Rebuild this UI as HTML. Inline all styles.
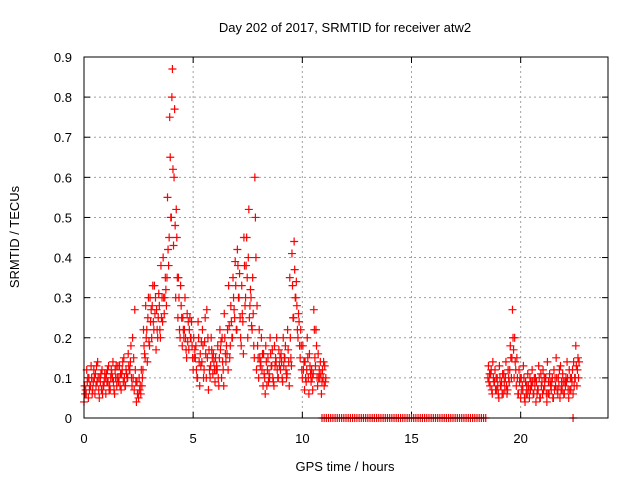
<!DOCTYPE html>
<html><head><meta charset="utf-8"><style>
body{margin:0;background:#fff}
svg{display:block;font-family:"Liberation Sans",sans-serif}
</style></head><body>
<svg id="chart" width="640" height="480" viewBox="0 0 640 480" xmlns="http://www.w3.org/2000/svg">
<text x="345" y="32" font-size="13" text-anchor="middle">Day 202 of 2017, SRMTID for receiver atw2</text>
<text x="345" y="471" font-size="13" text-anchor="middle">GPS time / hours</text>
<text transform="translate(19,237) rotate(-90)" font-size="13" text-anchor="middle">SRMTID / TECUs</text>
<g id="grid"></g>
<g id="ticks"></g>
<g id="marks"></g>
<rect x="84" y="57" width="524" height="361" fill="none" stroke="#000" stroke-width="1"/>
</svg>
<script>
const xTicks=[0,5,10,15,20];
const yTicks=[0,0.1,0.2,0.3,0.4,0.5,0.6,0.7,0.8,0.9];
const yTickLabels=["0","0.1","0.2","0.3","0.4","0.5","0.6","0.7","0.8","0.9"];
const seg1Start=0, seg1Step=0.1;
const seg1A=[.04,.06,.05,.08,.07,.06,.09,.05,.07,.08,.06,.09,.07,.1,.06,.08,.1,.07,.09,.08,.1,.12,.08,.07,.04,.05,.06,.12,.15,.14,.18,.2,.22,.17,.25,.2,.24,.3,.35,.45,.5,.43,.3,.25,.2,.18,.22,.15,.17,.2,.12,.15,.1,.08,.14,.12,.1,.07,.13,.11,.09,.12,.15,.1,.08,.14,.12,.18,.2,.25,.22,.3,.18,.16,.3,.2,.28,.22,.15,.12,.1,.14,.08,.06,.12,.1,.13,.08,.14,.1,.12,.09,.15,.11,.08,.13,.25,.3,.2,.15,.1,.07,.12,.06,.09,.11,.13,.08,.1,.09,.08];
const seg1B=[.08,.12,.1,.13,.09,.11,.14,.1,.12,.09,.11,.13,.1,.14,.12,.1,.13,.11,.15,.12,.16,.14,.2,.27,.09,.1,.12,.22,.28,.25,.3,.28,.33,.27,.31,.38,.4,.35,.55,.75,.8,.6,.52,.35,.33,.25,.3,.26,.22,.24,.2,.18,.24,.16,.22,.19,.27,.17,.2,.16,.15,.18,.22,.2,.26,.18,.33,.28,.35,.39,.42,.36,.33,.45,.38,.4,.32,.35,.6,.28,.22,.2,.16,.18,.15,.2,.17,.18,.2,.17,.16,.2,.18,.22,.35,.41,.44,.34,.26,.22,.18,.14,.2,.16,.12,.27,.22,.16,.14,.12,.13];
const seg1C=[.06,.09,.07,.1,.12,.08,.1,.09,.06,.11,.09,.07,.12,.09,.1,.13,.08,.12,.1,.11,.13,.18,.1,.12,.06,.07,.08,.18,.2,.3,.24,.33,.26,.22,.28,.25,.3,.32,.42,.65,.87,.77,.45,.3,.28,.22,.2,.19,.25,.18,.15,.12,.2,.13,.18,.25,.15,.12,.17,.14,.12,.1,.17,.14,.2,.16,.23,.24,.3,.33,.38,.25,.26,.38,.45,.52,.3,.26,.5,.18,.15,.12,.11,.14,.09,.16,.1,.13,.12,.13,.14,.13,.12,.17,.2,.33,.37,.28,.24,.18,.12,.1,.15,.13,.1,.22,.18,.1,.11,.1,.09];
const seg1D=[.07,.1,.08,.06,.1,.13,.07,.11,.08,.1,.12,.08,.11,.07,.13,.09,.11,.14,.08,.1,.12,.1,.15,.09,.06,.08,.1,.16,.22,.19,.27,.24,.3,.2,.22,.3,.26,.28,.38,.5,.62,.48,.35,.22,.25,.2,.17,.24,.2,.15,.17,.1,.14,.19,.1,.16,.2,.1,.15,.12,.13,.08,.19,.12,.16,.22,.15,.2,.27,.22,.3,.2,.24,.28,.35,.25,.23,.18,.4,.15,.13,.16,.1,.08,.11,.13,.09,.15,.1,.15,.1,.15,.1,.14,.15,.25,.3,.22,.18,.12,.14,.09,.1,.11,.07,.15,.1,.12,.06,.14,.1];
const seg2Start=18.5, seg2Step=0.1;
const seg2A=[.1,.08,.06,.09,.07,.05,.08,.06,.1,.07,.12,.15,.1,.08,.06,.05,.07,.04,.06,.05,.08,.06,.04,.07,.05,.06,.08,.04,.06,.07,.05,.08,.06,.05,.07,.06,.09,.05,.07,.06,.1,.12];
const seg2B=[.13,.11,.14,.12,.1,.13,.09,.11,.14,.12,.18,.27,.2,.15,.12,.1,.13,.09,.11,.1,.12,.1,.09,.13,.11,.12,.1,.14,.11,.09,.12,.15,.1,.13,.11,.09,.14,.12,.1,.14,.18,.15];
const seg2C=[.09,.12,.1,.07,.08,.1,.06,.09,.08,.1,.15,.2,.14,.1,.09,.07,.1,.06,.08,.07,.09,.08,.06,.1,.08,.07,.1,.06,.09,.1,.07,.1,.08,.07,.09,.08,.1,.07,.09,.08,.13,.1];
const seg2D=[.11,.07,.09,.1,.06,.08,.11,.07,.06,.09,.1,.17,.12,.06,.1,.08,.05,.08,.07,.09,.06,.1,.07,.05,.09,.1,.06,.09,.08,.05,.1,.07,.12,.09,.06,.1,.07,.1,.12,.1,.08,.14];
const zeroStart=10.9, zeroStep=0.1, zeroCount=76;

const X0=84,X1=608,Y0=418,Y1=57;
const xs=t=>X0+(t/24)*(X1-X0);
const ys=v=>Y0-(v/0.9)*(Y0-Y1);
const NS="http://www.w3.org/2000/svg";
const grid=document.getElementById('grid'),ticks=document.getElementById('ticks'),marks=document.getElementById('marks');
function mk(tag,attrs,parent){const e=document.createElementNS(NS,tag);for(const k in attrs)e.setAttribute(k,attrs[k]);parent.appendChild(e);return e;}
xTicks.forEach(t=>{
  const x=xs(t);
  if(t>0){const g=mk('line',{x1:x,x2:x,y1:Y0,y2:Y1,stroke:'#a0a0a0','stroke-dasharray':'2,3'},grid);
  
  }
  mk('line',{x1:x,x2:x,y1:Y0,y2:Y0-6,stroke:'#000'},ticks);
  mk('line',{x1:x,x2:x,y1:Y1,y2:Y1+6,stroke:'#000'},ticks);
  const l=mk('text',{x:x,y:443,'font-size':13,'text-anchor':'middle'},ticks);l.textContent=t;
  
  
});
yTicks.forEach((v,i)=>{
  const y=ys(v);
  if(v>0&&v<0.9){const g=mk('line',{x1:X0,x2:X1,y1:y,y2:y,stroke:'#a0a0a0','stroke-dasharray':'2,3'},grid);
  
  }
  mk('line',{x1:X0,x2:X0+6,y1:y,y2:y,stroke:'#000'},ticks);
  mk('line',{x1:X1,x2:X1-6,y1:y,y2:y,stroke:'#000'},ticks);
  const l=mk('text',{x:72,y:y+5,'font-size':13,'text-anchor':'end'},ticks);l.textContent=yTickLabels[i];
  
  
});
function plus(t,v){
  const x=xs(t),y=ys(v);
  const p=mk('path',{d:`M${x-4},${y}h8M${x},${y-4}v8`,stroke:'#f00','stroke-width':1.2,fill:'none'},marks);
  
  
}
function series(arr,start,step,off){arr.forEach((v,i)=>plus(start+i*step+off,v));}
series(seg1A,seg1Start,seg1Step,0);
series(seg1B,seg1Start,seg1Step,0.025);
series(seg1C,seg1Start,seg1Step,0.05);
series(seg1D,seg1Start,seg1Step,0.075);
series(seg2A,seg2Start,seg2Step,0);
series(seg2B,seg2Start,seg2Step,0.025);
series(seg2C,seg2Start,seg2Step,0.05);
series(seg2D,seg2Start,seg2Step,0.075);
for(let i=0;i<zeroCount;i++){plus(zeroStart+i*zeroStep,0);}
plus(22.4,0);
</script>
</body></html>
